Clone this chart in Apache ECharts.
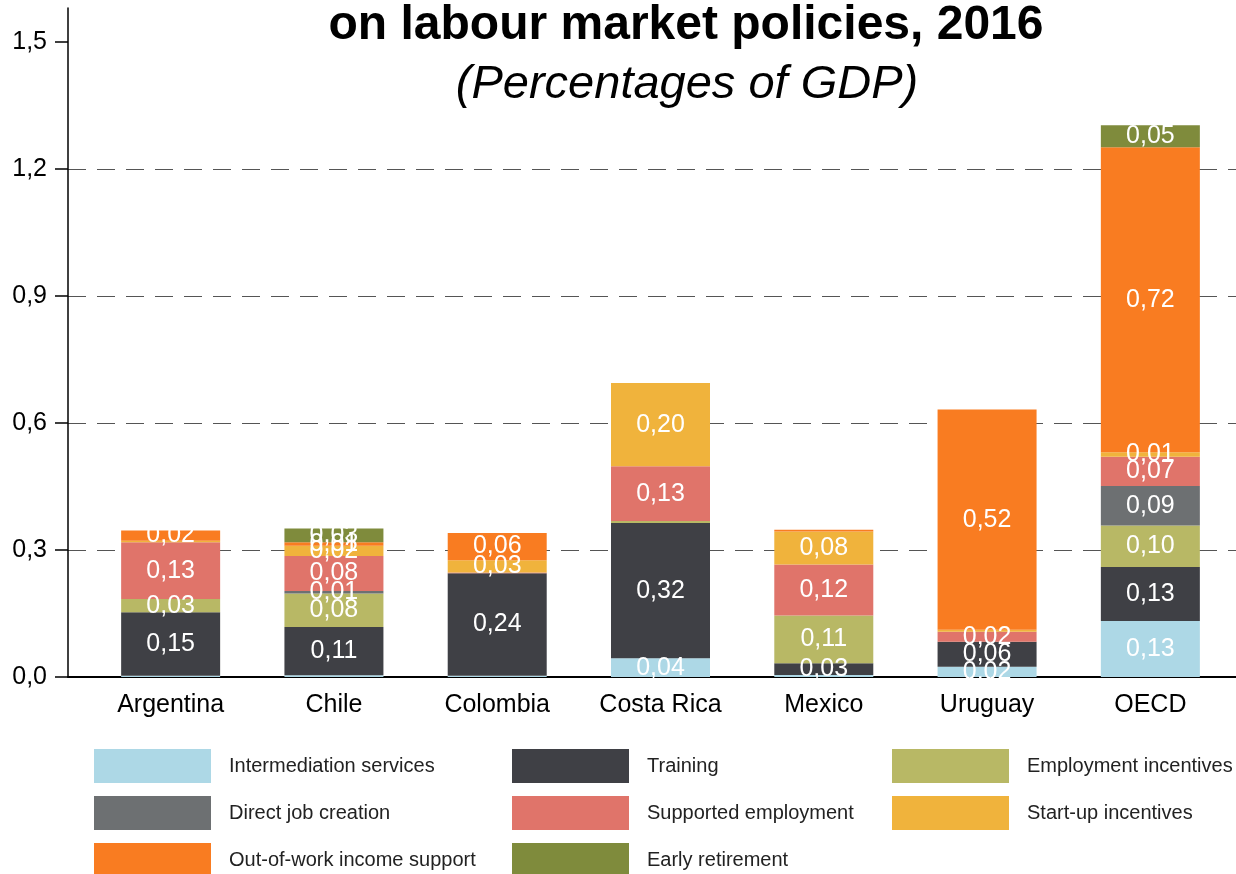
<!DOCTYPE html>
<html>
<head>
<meta charset="utf-8">
<script src="https://cdn.jsdelivr.net/npm/echarts@6/dist/echarts.min.js"></script>
<style>
  html, body { margin: 0; padding: 0; background: #fff; }
  #chart { width: 1236px; height: 874px; }
</style>
</head>
<body>
<div id="chart"></div>
<script>
const categories = ['Argentina', 'Chile', 'Colombia', 'Costa Rica', 'Mexico', 'Uruguay', 'OECD'];

const intermediation = [0.003, 0.004, 0.003, 0.044, 0.0045, 0.024, 0.132];
const training = [0.15, 0.114, 0.242, 0.32, 0.028, 0.059, 0.128];
const employmentIncentives = [0.031, 0.079, 0, 0.0045, 0.113, 0, 0.098];
const directJobCreation = [0, 0.006, 0, 0, 0, 0, 0.093];
const supportedEmployment = [0.134, 0.083, 0.002, 0.129, 0.12, 0.024, 0.069];
const startupIncentives = [0.004, 0.024, 0.029, 0.197, 0.078, 0.0045, 0.011];
const outOfWorkSupport = [0.024, 0.008, 0.064, 0, 0.004, 0.52, 0.72];
const earlyRetirement = [0, 0.033, 0, 0, 0, 0, 0.052];

const yTicks = [0, 0.3, 0.6, 0.9, 1.2, 1.5];

const FONT = '"Liberation Sans", Arial, sans-serif';

const seriesDefs = [
  { name: 'Intermediation services', data: intermediation, color: '#ADD8E6' },
  { name: 'Training', data: training, color: '#3F4045' },
  { name: 'Employment incentives', data: employmentIncentives, color: '#B8B865' },
  { name: 'Direct job creation', data: directJobCreation, color: '#6D7072' },
  { name: 'Supported employment', data: supportedEmployment, color: '#E0746A' },
  { name: 'Start-up incentives', data: startupIncentives, color: '#F0B33C' },
  { name: 'Out-of-work income support', data: outOfWorkSupport, color: '#F97C21' },
  { name: 'Early retirement', data: earlyRetirement, color: '#7F8B3C' }
];

function fmt(v) {
  return v.toFixed(1).replace('.', ',');
}

// one vertical legend per column so the three columns line up like the original
function legendColumn(names, left) {
  return {
    orient: 'vertical',
    left: left,
    top: 749,
    height: 140,
    padding: 0,
    itemWidth: 117,
    itemHeight: 34,
    itemGap: 13,
    icon: 'rect',
    data: names,
    textStyle: { fontFamily: FONT, fontSize: 20, color: '#222', padding: [6, 0, 0, 13] }
  };
}

const chart = echarts.init(document.getElementById('chart'));

const option = {
  animation: false,
  title: [
    {
      text: 'on labour market policies, 2016',
      left: 686,
      top: 2,
      padding: 0,
      textAlign: 'center',
      textStyle: { fontFamily: FONT, fontSize: 48, fontWeight: 'bold', color: '#000' }
    },
    {
      text: '(Percentages of GDP)',
      left: 687,
      top: 61,
      padding: 0,
      textAlign: 'center',
      textStyle: { fontFamily: FONT, fontSize: 47, fontStyle: 'italic', fontWeight: 'normal', color: '#000' }
    }
  ],
  legend: [
    legendColumn(['Intermediation services', 'Direct job creation', 'Out-of-work income support'], 94),
    legendColumn(['Training', 'Supported employment', 'Early retirement'], 512),
    legendColumn(['Employment incentives', 'Start-up incentives'], 892)
  ],
  grid: [
    { left: 89, right: 4, top: 8, bottom: 197 },
    { left: 68, right: 0, top: 42, bottom: 197 }
  ],
  xAxis: [
    {
      type: 'category',
      gridIndex: 0,
      data: categories,
      axisLine: { show: false },
      axisTick: { show: false },
      axisLabel: { fontFamily: FONT, fontSize: 25, color: '#000', margin: 16 }
    },
    {
      type: 'category',
      gridIndex: 1,
      data: categories,
      axisLine: { show: true, lineStyle: { color: '#000', width: 2 } },
      axisTick: { show: false },
      axisLabel: { show: false }
    }
  ],
  yAxis: [
    {
      type: 'value',
      gridIndex: 0,
      min: 0,
      max: 1.58,
      offset: 21,
      axisLine: { show: true, lineStyle: { color: '#000', width: 1.5 } },
      axisTick: { show: false },
      axisLabel: { show: false },
      splitLine: { show: false }
    },
    {
      type: 'value',
      gridIndex: 1,
      min: yTicks[0],
      max: yTicks[yTicks.length - 1],
      interval: 0.3,
      axisLine: { show: false },
      axisTick: { show: true, length: 13, lineStyle: { color: '#000', width: 1.5 } },
      axisLabel: { fontFamily: FONT, fontSize: 25, color: '#000', margin: 21, formatter: fmt },
      splitLine: {
        show: true,
        lineStyle: {
          type: [18, 11],
          width: 1,
          color: ['rgba(0,0,0,0)', '#555', '#555', '#555', '#555', 'rgba(0,0,0,0)']
        }
      }
    }
  ],
  series: seriesDefs.map(s => ({
    name: s.name,
    type: 'bar',
    stack: 'total',
    xAxisIndex: 0,
    yAxisIndex: 0,
    barWidth: 99,
    data: s.data,
    itemStyle: { color: s.color },
    label: {
      show: true,
      position: 'inside',
      color: '#fff',
      fontFamily: FONT,
      fontSize: 25,
      formatter: p => (p.value >= 0.005 ? p.value.toFixed(2).replace('.', ',') : '')
    }
  }))
};

chart.setOption(option);
</script>
</body>
</html>
